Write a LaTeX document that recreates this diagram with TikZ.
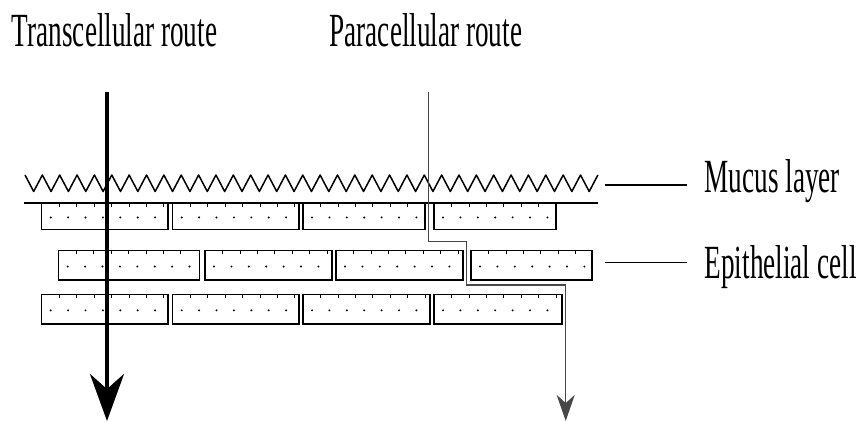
\documentclass[tikz,border=0pt]{standalone}
\usepackage{fontspec}
\setmainfont{Liberation Serif}
\usepackage{graphicx}
\usetikzlibrary{arrows.meta}
\newcommand\stretchlbl[1]{\scalebox{1}[1.75]{#1}}
\begin{document}
\begin{tikzpicture}[x=1pt,y=-1pt,
  lbl/.style={inner sep=0pt,outer sep=0pt,anchor=base west,font=\fontsize{27.2}{30}\selectfont},
  cellbox/.style={draw=black,line width=1.5pt},
  celltick/.style={draw=black,line width=1pt},
  mucus/.style={draw=black,line width=1.5pt,line join=round},
  leader/.style={draw=black,line width=1.5pt},
  transroute/.style={draw=black,line width=4pt,-{Stealth[length=47pt,width=34pt,inset=15pt]}},
  pararoute/.style={draw=black!72,line width=1.4pt,-{Stealth[length=26pt,width=18pt,inset=8pt]}}
]
\useasboundingbox (0,0) rectangle (858,422);

% labels
\node[lbl] (trans) at (12,46.7) {\stretchlbl{Transcellular route}};
\node[lbl] (para) at (329.6,46.7) {\stretchlbl{Paracellular route}};
\node[lbl] (mucuslbl) at (704.7,192.3) {\stretchlbl{Mucus layer}};
\node[lbl] (epilbl) at (704.7,278.3) {\stretchlbl{Epithelial cell}};

% mucus layer
\draw[mucus] (25,175) \foreach \k in {0,...,32}{ -- ++(8.68,16.5) -- ++(8.68,-16.5) };
\draw[leader] (24,203) -- (598,203);

% cells
\foreach \xl/\xr/\yt/\yb in {
  41.7/168/203/229.5, 172.7/299/203/229.5, 303/425/203/229.5, 434/556/203/229.5,
  58.7/199.7/250.7/280, 205/332/250.7/280, 336/463/250.7/280, 471/592/250.7/280,
  41.7/168/294.3/324, 172.7/299/294.3/324, 303/430/294.3/324, 434/562/294.3/324}{
  \draw[cellbox] (\xl,\yt) rectangle (\xr,\yb);
  \pgfmathsetmacro\ym{(\yt+\yb)/2+1.2}
  \pgfmathtruncatemacro\nd{floor((\xr-\xl-15)/17.4)}
  \foreach \k in {0,...,\nd}{\fill (\xl+9+17.4*\k,\ym) circle (1.1);}
  \pgfmathtruncatemacro\nt{floor((\xr-\xl-20.7)/17.4)}
  \foreach \k in {0,...,\nt}{\draw[celltick] (\xl+17.7+17.4*\k,\yt) -- ++(0,3.5);}
}

% leader lines
\coordinate (mucusend) at (605,185);
\coordinate (mucustip) at (687,185);
\coordinate (epiend) at (605,262.3);
\coordinate (epitip) at (687,262.3);
\draw[leader] (mucusend) -- (mucustip);
\draw[leader] (epiend) -- (epitip);

% routes
\coordinate (tstart) at (107,92);
\coordinate (tend) at (107,421);
\draw[transroute] (tstart) -- (tend);

\coordinate (pstart) at (428.7,92);
\coordinate (pend) at (565.7,421);
\draw[pararoute] (pstart) -- (428.7,241.7) -- (466.7,241.7) -- (466.7,285) -- (565.7,285) -- (pend);
\end{tikzpicture}
\end{document}
